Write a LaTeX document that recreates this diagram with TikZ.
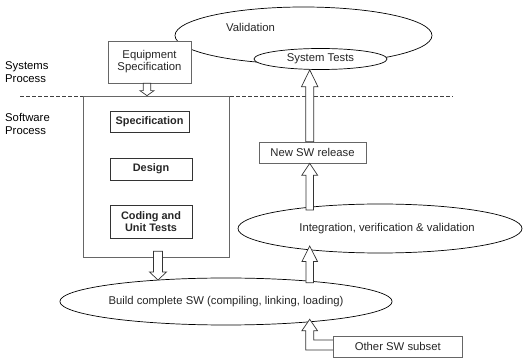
\documentclass[tikz,border=0pt]{standalone}
\usepackage{fontspec}
\setmainfont{Liberation Sans}
\usetikzlibrary{calc,shapes.geometric}

% vertical hollow block arrow: start, end, head length, shaft half-width, head half-width
\newcommand\blkarrow[5]{%
  \draw[blockarrow] let \p1=(#1), \p2=(#2), \n1={sign(\y2-\y1)*#3} in
    ({\x1-#4pt},\y1) -- ({\x1-#4pt},{\y2-\n1*1pt}) -- ({\x1-#5pt},{\y2-\n1*1pt})
    -- (\x1,\y2) -- ({\x1+#5pt},{\y2-\n1*1pt}) -- ({\x1+#4pt},{\y2-\n1*1pt})
    -- ({\x1+#4pt},\y1) -- cycle;}

\tikzset{
  rbox/.style={draw=black!60, line width=0.7pt, inner sep=0pt, align=center, text=black!85},
  stage/.style={rbox, draw=black!80, font=\bfseries\fontsize{10.9}{12.5}\selectfont},
  oval/.style={ellipse, draw=black, line width=0.7pt, inner sep=0pt, fill=white, text=black!85},
  lbl/.style={align=left, inner sep=0pt, text=black, font=\fontsize{11.3}{13.5}\selectfont},
  blockarrow/.style={draw=black!80, line width=0.7pt, fill=white},
  divider/.style={draw=black!75, line width=0.6pt, dash pattern=on 4pt off 2pt}
}

\begin{document}
\begin{tikzpicture}[x=1pt, y=1pt, font=\fontsize{11.3}{12}\selectfont]
\useasboundingbox (0,0) rectangle (523,359);

% systems level
\node[oval, minimum width=257, minimum height=57] (val) at (303.5,323.5) {};
\node[text=black!85, inner sep=0pt] (valtxt) at (250.5,332) {Validation};
\node[oval, minimum width=133, minimum height=21] (st) at (320.5,300) {System Tests};
\node[rbox, fill=white, minimum width=83, minimum height=42] (eq) at (149.5,297) {Equipment\\Specification};
\node[lbl, anchor=west] (sys) at (5,287) {Systems\\Process};

% boundary between systems and software process
\coordinate (dl) at (20,262.5);
\coordinate (dr) at (453,262.5);
\draw[divider] (dl) -- (dr);

% software level
\node[lbl, anchor=west] (sw) at (5,235) {Software\\Process};
\node[rbox, minimum width=146, minimum height=161] (proc) at (156,182.5) {};
\node[stage, minimum width=79, minimum height=21] (spec) at (149.5,237.5) {Specification};
\node[stage, minimum width=82, minimum height=22] (des) at (151,190) {Design};
\node[stage, minimum width=82, minimum height=33] (code) at (151,137.5) {Coding and\\Unit Tests};

\node[oval, minimum width=286, minimum height=47] (build) at (226,57.5) {Build complete SW (compiling, linking, loading)};
\node[oval, minimum width=284, minimum height=49] (ivv) at (380,130.5) {\hspace*{14pt}Integration, verification \& validation};
\node[rbox, fill=white, minimum width=107, minimum height=21] (nsw) at (312.5,206.5) {New SW release};
\node[rbox, fill=white, minimum width=129, minimum height=21] (osw) at (397.8,12.5) {Other SW subset};

% arrow positions
\coordinate (xa) at (147,0);
\coordinate (xb) at (158,0);
\coordinate (xc) at (309.7,0);
\coordinate (buildtop) at (158,79);
\coordinate (buildtopr) at (309.7,76.3);
\coordinate (ivvbot) at (309.7,113);
\coordinate (ivvtop) at (309.7,149);
\coordinate (eltip) at (309.7,39.7);

\blkarrow{xa |- eq.south}{xa |- proc.north}{5}{3.7}{7}
\blkarrow{$(xb |- proc.south)+(0,6)$}{buildtop}{8}{4.5}{8.5}
\blkarrow{buildtopr}{ivvbot}{15.5}{3.7}{7.8}
\blkarrow{ivvtop}{xc |- nsw.south}{12}{3.7}{8}
\blkarrow{xc |- nsw.north}{xc |- st.south}{17}{4}{8.3}

% elbow arrow from the other subset into the build
\draw[blockarrow] let \p1=(eltip), \p2=(osw.west) in
  (\x2,{\y2+6.5pt}) -- ({\x1+4pt},{\y2+6.5pt}) -- ({\x1+4pt},{\y1-11.4pt})
  -- ({\x1+7.8pt},{\y1-11.4pt}) -- (\x1,\y1) -- ({\x1-7.8pt},{\y1-11.4pt})
  -- ({\x1-4pt},{\y1-11.4pt}) -- ({\x1-4pt},{\y2-3.5pt}) -- (\x2,{\y2-3.5pt});
\end{tikzpicture}
\end{document}
